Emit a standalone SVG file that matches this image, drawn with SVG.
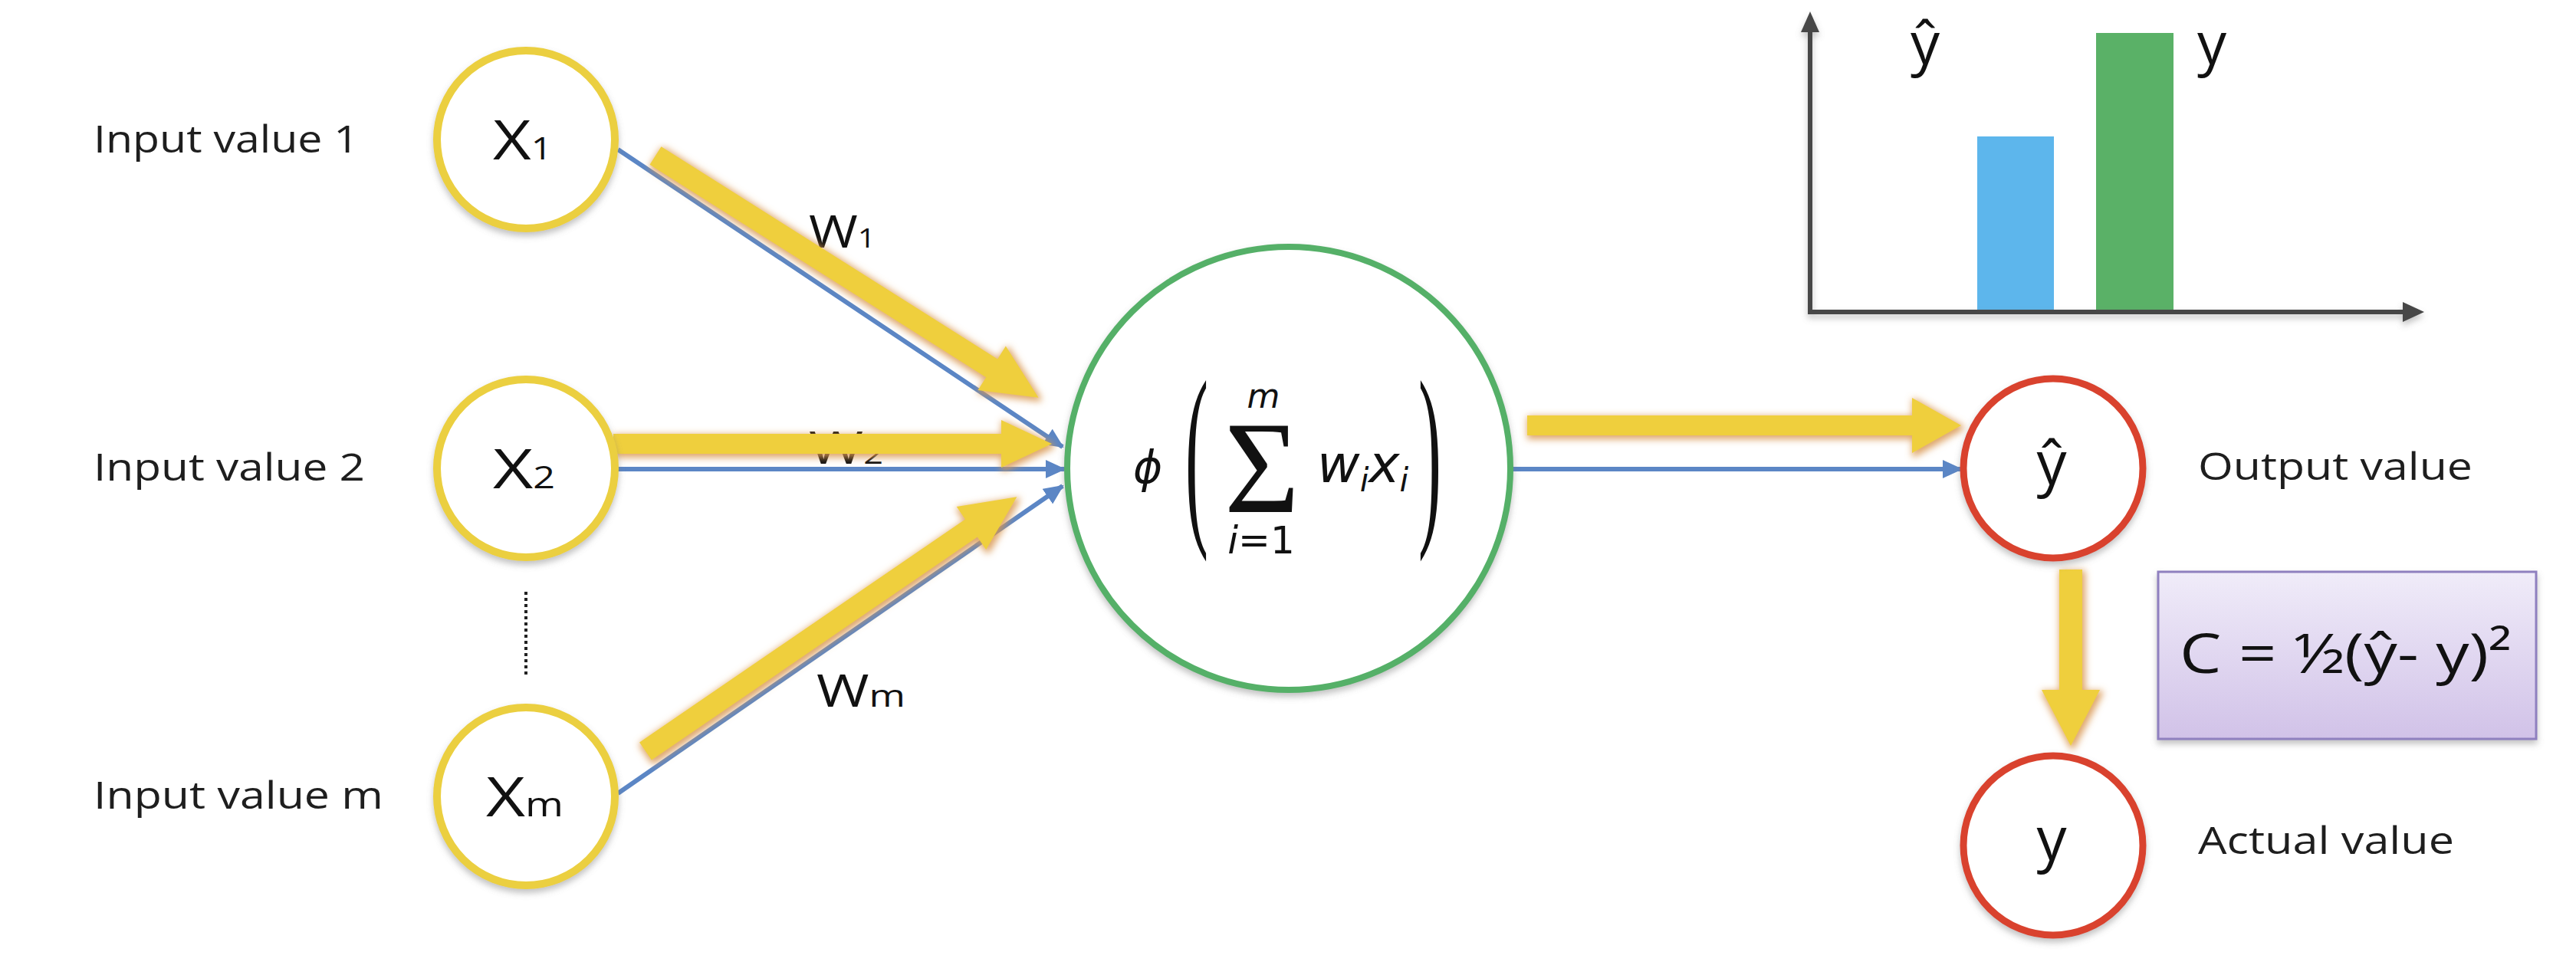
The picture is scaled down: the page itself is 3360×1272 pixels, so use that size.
<svg xmlns="http://www.w3.org/2000/svg" width="3360" height="1272" viewBox="0 0 3360 1272">
<defs>
<style>
.lbl{font-family:"Open Sans","DejaVu Sans",sans-serif;font-size:50px;fill:#1e1e1e}
.nd{font-family:"Open Sans","DejaVu Sans",sans-serif;fill:#111}
.yc{fill:#fff;stroke:#ebcf3f;stroke-width:10}
.rc{fill:#fff;stroke:#d9432e;stroke-width:9}
.blue{stroke:#5b86c5;stroke-width:6;fill:none}
.yarrow{fill:#efcf3e}
.ax{stroke:#464646;stroke-width:6;fill:none}
.math{font-family:"DejaVu Sans","Open Sans",sans-serif;fill:#111}
</style>
<marker id="ah" markerUnits="userSpaceOnUse" markerWidth="26" markerHeight="24" refX="24" refY="12" orient="auto"><path d="M0,0 L26,12 L0,24 z" fill="#5b86c5"/></marker>
<filter id="glow" x="-20%" y="-40%" width="140%" height="180%">
<feMorphology operator="dilate" radius="2" in="SourceAlpha" result="d"/>
<feGaussianBlur in="d" stdDeviation="5" result="b"/>
<feOffset in="b" dx="2" dy="3" result="o"/>
<feFlood flood-color="#d9964f" flood-opacity="0.85"/>
<feComposite in2="o" operator="in" result="s"/>
<feMerge><feMergeNode in="s"/><feMergeNode in="SourceGraphic"/></feMerge>
</filter>
<filter id="sh" x="-20%" y="-20%" width="140%" height="140%">
<feDropShadow dx="0" dy="5" stdDeviation="4" flood-color="#777" flood-opacity="0.45"/>
</filter>
<linearGradient id="boxg" x1="0" y1="0" x2="0" y2="1">
<stop offset="0" stop-color="#f0ecf9"/>
<stop offset="1" stop-color="#d1c2e8"/>
</linearGradient>
</defs>
<rect width="3360" height="1272" fill="#fff"/>

<g id="labels">
<text class="lbl" x="122" y="199" textLength="346" lengthAdjust="spacingAndGlyphs">Input value 1</text>
<text class="lbl" x="122" y="627" textLength="354" lengthAdjust="spacingAndGlyphs">Input value 2</text>
<text class="lbl" x="122" y="1055" textLength="378" lengthAdjust="spacingAndGlyphs">Input value m</text>
<text class="lbl" x="2867" y="626" textLength="358" lengthAdjust="spacingAndGlyphs">Output value</text>
<text class="lbl" x="2867" y="1114" textLength="334" lengthAdjust="spacingAndGlyphs">Actual value</text>
</g>

<g id="weights" class="nd">
<text x="1055" y="323" font-size="58" textLength="87" lengthAdjust="spacingAndGlyphs">W<tspan font-size="34">1</tspan></text>
<text x="1055" y="605" font-size="58" textLength="97" lengthAdjust="spacingAndGlyphs">W<tspan font-size="34">2</tspan></text>
<text x="1065" y="922" font-size="58" textLength="116" lengthAdjust="spacingAndGlyphs">W<tspan font-size="40">m</tspan></text>
</g>

<line id="dots" x1="686" y1="772" x2="686" y2="880" stroke="#222" stroke-width="4" stroke-dasharray="4 4"/>

<g id="connectors">
<line class="blue" x1="806" y1="195" x2="1386" y2="583" marker-end="url(#ah)"/>
<line class="blue" x1="806" y1="612" x2="1388" y2="612" marker-end="url(#ah)"/>
<line class="blue" x1="806" y1="1035" x2="1386" y2="634" marker-end="url(#ah)"/>
<line class="blue" x1="1971" y1="612" x2="2558" y2="612" marker-end="url(#ah)"/>
<g filter="url(#glow)">
<polygon class="yarrow" transform="translate(855,203) rotate(32.3)" points="0,-14 519,-14 519,-34 591,0 519,34 519,14 0,14"/>
</g>
<g filter="url(#glow)">
<polygon class="yarrow" transform="translate(800,579)" points="0,-13 506,-13 506,-31 572,0 506,31 506,13 0,13"/>
</g>
<g filter="url(#glow)">
<polygon class="yarrow" transform="translate(842,980) rotate(-34.4)" points="0,-14 515,-14 515,-34 587,0 515,34 515,14 0,14"/>
</g>
<g filter="url(#glow)">
<polygon class="yarrow" transform="translate(1992,555)" points="0,-13 502,-13 502,-36 566,0 502,36 502,13 0,13"/>
</g>
<g filter="url(#glow)">
<polygon class="yarrow" transform="translate(2701,743) rotate(90)" points="0,-15 157,-15 157,-38 230,0 157,38 157,15 0,15"/>
</g>
</g>

<g id="x1">
<circle class="yc" cx="686" cy="182" r="116" filter="url(#sh)"/>
<text class="nd" x="643" y="208" font-size="72" textLength="77" lengthAdjust="spacingAndGlyphs">X<tspan font-size="40">1</tspan></text>
</g>
<g id="x2">
<circle class="yc" cx="686" cy="611" r="116" filter="url(#sh)"/>
<text class="nd" x="643" y="637" font-size="72" textLength="81" lengthAdjust="spacingAndGlyphs">X<tspan font-size="40">2</tspan></text>
</g>
<g id="xm">
<circle class="yc" cx="686" cy="1039" r="116" filter="url(#sh)"/>
<text class="nd" x="634" y="1065" font-size="72" textLength="101" lengthAdjust="spacingAndGlyphs">X<tspan font-size="44">m</tspan></text>
</g>

<g id="neuron">
<circle cx="1681" cy="611" r="289" fill="#fff" stroke="#55b068" stroke-width="8" filter="url(#sh)"/>
<text class="math" x="1478" y="630" font-family="DejaVu Serif" font-style="italic" font-size="58">ϕ</text>
<text transform="translate(1546,677) scale(1,2.9)" font-family="Liberation Serif" font-size="90" fill="#111">(</text>
<text transform="translate(1850,677) scale(1,2.9)" font-family="Liberation Serif" font-size="90" fill="#111">)</text>
<text x="1597" y="668" font-family="Liberation Serif" font-size="172" fill="#111" textLength="98" lengthAdjust="spacingAndGlyphs">Σ</text>
<text class="math" x="1648" y="532" font-size="44" font-style="italic" text-anchor="middle">m</text>
<text class="math" x="1645" y="722" font-size="50" text-anchor="middle"><tspan font-style="italic">i</tspan>=1</text>
<text class="math" x="1718" y="629" font-size="68" font-style="italic">w<tspan font-size="42" dy="12">i</tspan><tspan font-size="68" dy="-12">x</tspan><tspan font-size="42" dy="12">i</tspan></text>
</g>

<g id="yhat">
<circle class="rc" cx="2678" cy="611" r="117" filter="url(#sh)"/>
<text class="nd" x="2676" y="632" font-size="78" text-anchor="middle">ŷ</text>
</g>
<g id="y">
<circle class="rc" cx="2678" cy="1103" r="117" filter="url(#sh)"/>
<text class="nd" x="2676" y="1122" font-size="78" text-anchor="middle">y</text>
</g>

<g id="cost">
<rect x="2815" y="746" width="493" height="218" fill="url(#boxg)" stroke="#8f80bf" stroke-width="3" filter="url(#sh)"/>
<text class="nd" x="2843" y="878" font-size="72" textLength="433" lengthAdjust="spacingAndGlyphs">C = ½(ŷ- y)²</text>
</g>

<g id="chart">
<rect x="2579" y="178" width="100" height="229" fill="#5db6ec"/>
<rect x="2734" y="43" width="101" height="364" fill="#5ab167"/>
<g filter="url(#sh)">
<line class="ax" x1="2361" y1="410" x2="2361" y2="38"/>
<polygon points="2349,42 2361,15 2373,42" fill="#464646"/>
<line class="ax" x1="2358" y1="407" x2="3138" y2="407"/>
<polygon points="3134,394 3162,407 3134,420" fill="#464646"/>
</g>
<text class="nd" x="2492" y="84" font-size="76">ŷ</text>
<text class="nd" x="2866" y="84" font-size="76">y</text>
</g>
</svg>
